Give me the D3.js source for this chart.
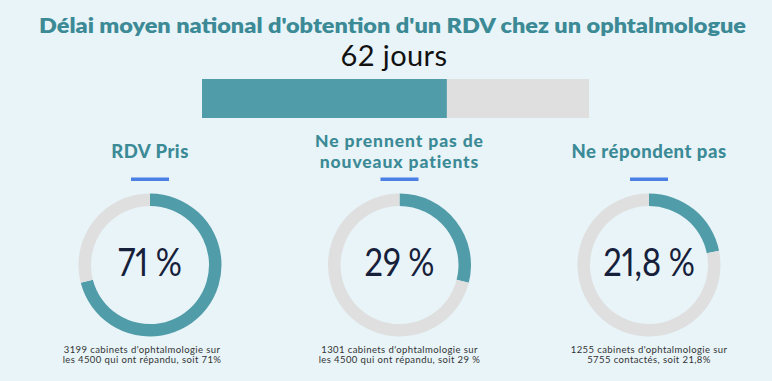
<!DOCTYPE html>
<html><head><meta charset="utf-8">
<script src="https://cdn.jsdelivr.net/npm/d3@7"></script>
<style>
html,body{margin:0;padding:0;background:#e8f4f8;}
svg{display:block;}
.num{font-feature-settings:"pnum" 1;font-variant-numeric:proportional-nums;}
</style></head>
<body>
<svg id="chart" width="772" height="381"></svg>
<script>
// ---- data ----
const titleText = "Délai moyen national d'obtention d'un RDV chez un ophtalmologue";
const delayValue = 62;
const delayLabel = "62 jours";
const delayScaleMax = 98;
const categories = [["RDV Pris"], ["Ne prennent pas de", "nouveaux patients"], ["Ne répondent pas"]];
const percentValues = [71, 29, 21.8];
const percentLabels = ["71 %", "29 %", "21,8 %"];
const captions = [
  ["3199 cabinets d'ophtalmologie sur", "les 4500 qui ont répandu, soit 71%"],
  ["1301 cabinets d'ophtalmologie sur", "les 4500 qui ont répandu, soit 29 %"],
  ["1255 cabinets d'ophtalmologie sur", "5755 contactés, soit 21,8%"]
];

// ---- styles ----
const TEAL = "#519ca9", GREY = "#dfdfdf", HEAD = "#3b8a96", BLUE = "#4a7fe4", DARK = "#16203a";
const headFont = "Lato, 'Noto Sans', sans-serif";

const svg = d3.select("#chart");
svg.append("rect").attr("width", 772).attr("height", 381).attr("fill", "#e8f4f8");

// title
svg.append("text").attr("x", 392.5).attr("y", 33).attr("text-anchor", "middle")
  .attr("font-family", headFont).attr("font-weight", 800).attr("font-size", 21)
  .attr("fill", HEAD).attr("textLength", 707).attr("lengthAdjust", "spacingAndGlyphs")
  .text(titleText);

svg.append("text").attr("x", 394).attr("y", 66).attr("text-anchor", "middle")
  .attr("font-family", headFont).attr("font-weight", 400).attr("font-size", 29)
  .attr("fill", "#111").attr("letter-spacing", 0.4).text(delayLabel);

// progress bar
const xBar = d3.scaleLinear().domain([0, delayScaleMax]).range([202, 589]);
svg.append("rect").attr("x", xBar(0)).attr("y", 79).attr("height", 39)
  .attr("width", xBar(delayScaleMax) - xBar(0)).attr("fill", GREY);
svg.append("rect").attr("x", xBar(0)).attr("y", 79).attr("height", 39)
  .attr("width", xBar(delayValue) - xBar(0)).attr("fill", TEAL);

// donuts
const cx = d3.scalePoint().domain(d3.range(categories.length)).range([150, 649]);
const pie = d3.pie().sort(null).value(d => d);
const arc = d3.arc().innerRadius(59).outerRadius(71.5);

categories.forEach((lines, i) => {
  const x = cx(i);
  const g = svg.append("g");
  const multi = lines.length > 1;
  const fs = multi ? 17.5 : 18.5;
  const ht = g.append("text").attr("x", x).attr("y", multi ? 146.5 : 158).attr("text-anchor", "middle")
    .attr("font-family", headFont).attr("font-weight", 900).attr("font-size", fs)
    .attr("letter-spacing", multi ? 0.9 : 0.5).attr("fill", HEAD);
  lines.forEach((l, j) => {
    ht.append("tspan").attr("x", x).attr("dy", j === 0 ? 0 : 21).text(l);
  });
  g.append("rect").attr("x", x - 19).attr("y", 177.5).attr("width", 38).attr("height", 3.5).attr("fill", BLUE);

  const dg = svg.append("g").attr("transform", `translate(${x},265)`);
  dg.selectAll("path").data(pie([percentValues[i], 100 - percentValues[i]]))
    .join("path").attr("d", arc).attr("fill", (d, k) => k === 0 ? TEAL : GREY);
  dg.append("text").attr("class", "num").attr("y", 11).attr("text-anchor", "middle")
    .attr("transform", "scale(0.86,1)")
    .attr("font-family", headFont).attr("font-weight", 400).attr("font-size", 38)
    .attr("word-spacing", -1)
    .attr("fill", DARK).text(percentLabels[i]);

  captions[i].forEach((l, j) => {
    svg.append("text").attr("x", i === 0 ? 142 : x).attr("y", 352.5 + j * 10).attr("text-anchor", "middle")
      .attr("font-family", headFont).attr("font-size", 9.5).attr("letter-spacing", 0.4)
      .attr("fill", "#333").text(l);
  });
});
</script>
</body></html>
